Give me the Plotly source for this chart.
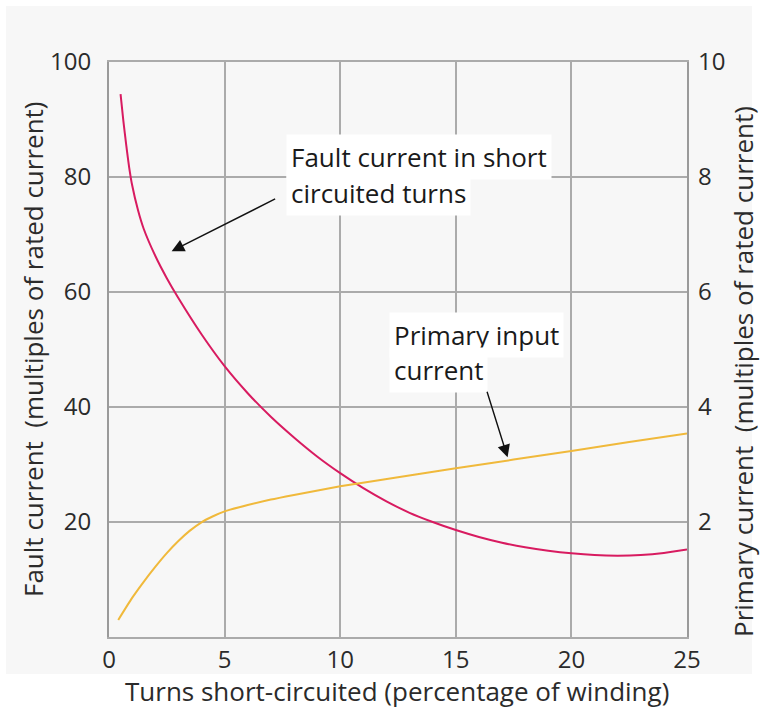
import plotly.graph_objects as go

# ---- data ----
turns_fault = [0.5, 0.62, 0.75, 0.875, 1.0, 1.25, 1.5, 2.0, 2.5, 3.0, 4.0, 5.0, 6.0, 7.0, 8.0, 9.0,
               10, 11, 12, 13, 14, 15, 16, 17, 18, 19, 20, 21, 22, 23, 24, 25]
fault_current = [94.4, 89.8, 85.4, 81.6, 78.6, 74.3, 71.0, 66.3, 62.4, 58.95, 52.65, 47.1, 42.4, 38.3, 34.7, 31.4,
                 28.5, 25.9, 23.6, 21.6, 20.0, 18.6, 17.4, 16.4, 15.6, 15.0, 14.55, 14.25, 14.15, 14.25, 14.6, 15.2]

turns_primary = [0.4, 1.0, 1.5, 2.0, 2.5, 3.0, 3.5, 4.0, 4.5, 5.0, 6.0, 7.0, 8.0, 10, 12.5, 15, 17.5, 20, 22.5, 25]
primary_current = [0.296, 0.68, 0.96, 1.22, 1.46, 1.67, 1.85, 1.995, 2.10, 2.185, 2.295, 2.39, 2.47, 2.62,
                   2.78, 2.935, 3.085, 3.235, 3.39, 3.54]

x_ticks = [0, 5, 10, 15, 20, 25]
y_left_ticks = [20, 40, 60, 80, 100]
y_right_ticks = [2, 4, 6, 8, 10]

W, H = 764, 713
ML, MR, MT, MB = 109, 77, 62, 76
PW, PH = W - ML - MR, H - MT - MB

def px(x):
    return (x - ML) / PW

def py(y):
    return (H - MB - y) / PH

FONT = "Open Sans"
TXT = "#2b2b2b"
GRID = "#ababab"
TICK = 24
TITLE = 26

fig = go.Figure()
fig.add_trace(go.Scatter(x=turns_fault, y=fault_current, mode="lines",
                         line=dict(color="#d81b60", width=2, shape="spline", smoothing=0.6),
                         yaxis="y", showlegend=False, hoverinfo="skip"))
fig.add_trace(go.Scatter(x=turns_primary, y=primary_current, mode="lines",
                         line=dict(color="#f0b93b", width=2, shape="spline", smoothing=0.6),
                         yaxis="y2", showlegend=False, hoverinfo="skip"))

fig.update_layout(
    width=W, height=H,
    margin=dict(l=ML, r=MR, t=MT, b=MB, pad=0),
    paper_bgcolor="white",
    plot_bgcolor="#f8f8f8",
    font=dict(family=FONT, size=TICK, color=TXT),
    xaxis=dict(range=[0, 25], tickvals=x_ticks, showgrid=True, gridcolor=GRID, gridwidth=2,
               showline=True, linecolor=GRID, linewidth=2, mirror=True, zeroline=False,
               ticks="", ticklabelstandoff=0, tickfont=dict(size=TICK, color=TXT)),
    yaxis=dict(range=[0, 100], tickvals=y_left_ticks, showgrid=True, gridcolor=GRID, gridwidth=2,
               showline=True, linecolor="#9a9a9a", linewidth=2, mirror=True, zeroline=False,
               ticks="", ticklabelstandoff=11, tickfont=dict(size=TICK, color=TXT)),
    yaxis2=dict(range=[0, 10], tickvals=y_right_ticks, overlaying="y", side="right",
                showgrid=False, zeroline=False, showline=False, ticks="",
                ticklabelstandoff=10, tickfont=dict(size=TICK, color=TXT)),
    shapes=[dict(type="rect", xref="paper", yref="paper", layer="below",
                 x0=px(6), x1=px(752), y0=py(674), y1=py(6),
                 fillcolor="#f7f7f7", line=dict(width=0))],
)

ann = []
# axis titles
ann.append(dict(text="Fault current  (multiples of rated current)", xref="paper", yref="paper",
                x=px(33), y=py(349), textangle=-90, showarrow=False, font=dict(size=TITLE, color=TXT),
                xanchor="center", yanchor="middle"))
ann.append(dict(text="Primary current  (multiples of rated current)", xref="paper", yref="paper",
                x=px(743), y=py(372), textangle=-90, showarrow=False, font=dict(size=TITLE, color=TXT),
                xanchor="center", yanchor="middle"))
ann.append(dict(text="Turns short-circuited (percentage of winding)", xref="paper", yref="paper",
                x=px(397), y=py(691), showarrow=False, font=dict(size=TITLE, color=TXT),
                xanchor="center", yanchor="middle"))
# callout texts
for t, xx, yy in [("Fault current in short", 286, 157), ("circuited turns", 286, 193),
                  ("Primary input", 389, 335), ("current", 389, 370)]:
    ann.append(dict(text=t, xref="paper", yref="paper", x=px(xx), y=py(yy), showarrow=False,
                    xanchor="left", yanchor="middle", bgcolor="white", borderpad=4,
                    font=dict(size=TITLE, color="#1a1a1a")))
# arrows
ann.append(dict(text="", x=2.71, y=67.1, xref="x", yref="y", ax=105, ay=-53,
                showarrow=True, arrowhead=2, arrowsize=1.8, arrowwidth=1.4, arrowcolor="#111"))
ann.append(dict(text="", x=17.24, y=31.25, xref="x", yref="y", ax=-21, ay=-67,
                showarrow=True, arrowhead=2, arrowsize=1.8, arrowwidth=1.4, arrowcolor="#111"))
fig.update_layout(annotations=ann)

fig.write_html("out.html")
